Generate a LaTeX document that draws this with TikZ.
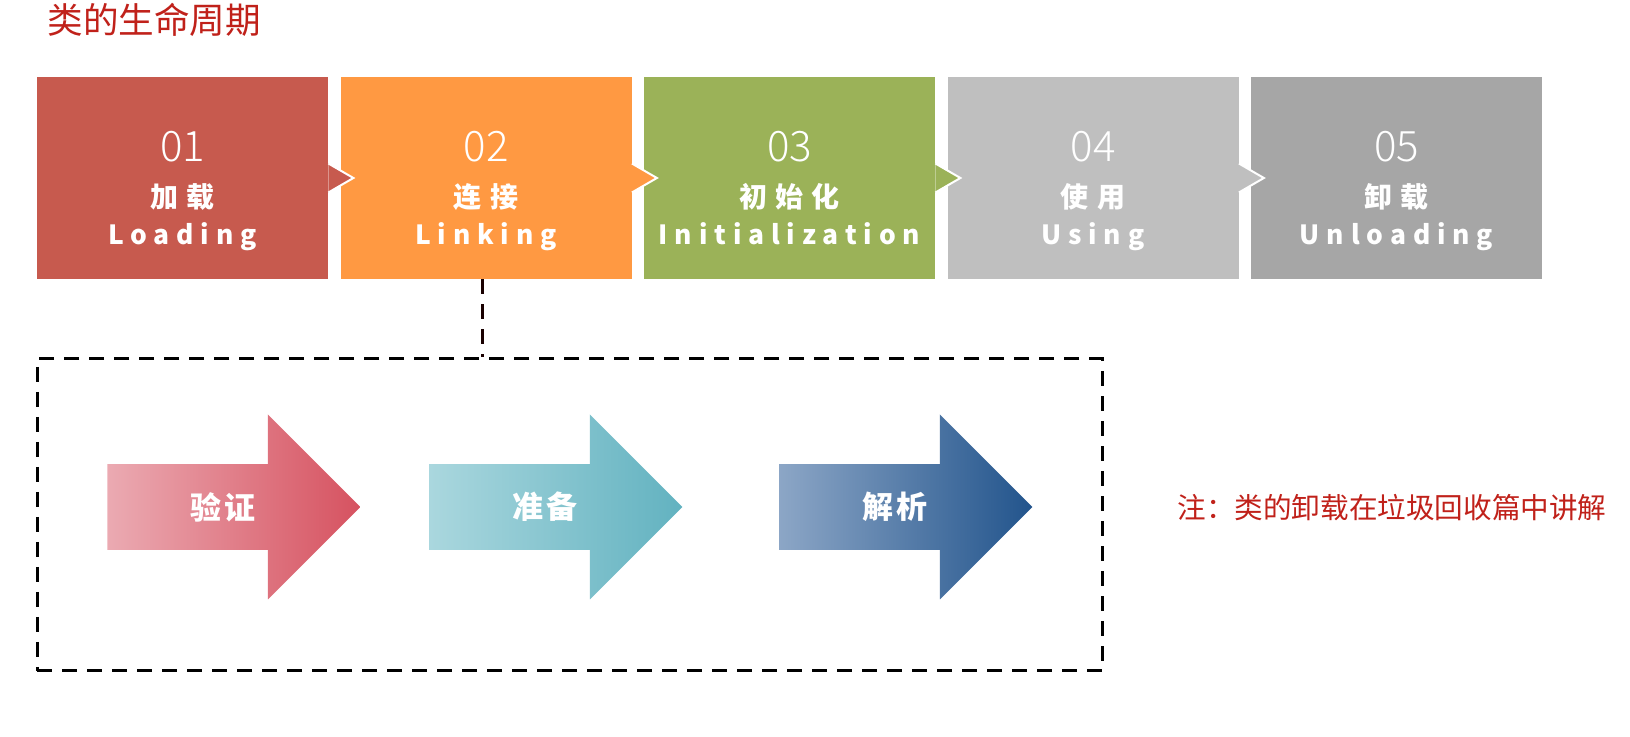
\documentclass[tikz,border=0pt]{standalone}
\usepackage{fontspec}
\setmainfont{Noto Sans CJK SC}
\newfontfamily\cjk{Noto Sans CJK SC}
\newfontfamily\cjklight{Noto Sans CJK SC Light}
\usetikzlibrary{positioning,shapes.arrows}

\definecolor{titlered}{RGB}{192,33,26}
\definecolor{loadred}{RGB}{199,90,78}
\definecolor{linkorange}{RGB}{255,153,66}
\definecolor{initgreen}{RGB}{155,178,88}
\definecolor{usegray}{RGB}{191,191,191}
\definecolor{unloadgray}{RGB}{166,166,166}
\definecolor{verifylight}{RGB}{235,170,178}
\definecolor{verifydark}{RGB}{214,82,96}
\definecolor{preparelight}{RGB}{170,215,222}
\definecolor{preparedark}{RGB}{98,178,192}
\definecolor{resolvelight}{RGB}{140,166,198}
\definecolor{resolvedark}{RGB}{34,84,140}

\begin{document}
\begin{tikzpicture}[x=0.5pt, y=-0.5pt,
    stage/.style={rectangle, minimum width=145.5pt, minimum height=101pt, inner sep=0pt},
    stagenum/.style={anchor=base, text=white, font=\cjklight\fontsize{21}{21}\selectfont},
    stagecn/.style={anchor=base, text=white, font=\cjk\bfseries\fontsize{14}{14}\selectfont\addfontfeature{LetterSpace=30}},
    stageen/.style={anchor=base, text=white, font=\cjk\bfseries\fontsize{13.2}{13.2}\selectfont\addfontfeature{LetterSpace=26}},
    phasearrow/.style={single arrow, minimum height=126.5pt, minimum width=92.5pt,
      single arrow head extend=24.75pt, inner xsep=0pt, inner ysep=13.75pt, text=white,
      font=\cjk\bfseries\fontsize{15.5}{15.5}\selectfont\addfontfeature{LetterSpace=10}},
    dashline/.style={line width=1.5pt, dash pattern=on 7.5pt off 5pt},
    redtext/.style={text=titlered, inner sep=0pt}]
  \useasboundingbox (0,0) rectangle (1630,737);
  % Title
  \node[redtext, anchor=west, font=\cjk\fontsize{17.8}{17.8}\selectfont] (title) at (47,20) {类的生命周期};
  % Five stages of the class life cycle
  \foreach \i/\name/\col/\num/\cn/\en in {0/load/loadred/01/加载/Loading,
      1/link/linkorange/02/连接/Linking, 2/init/initgreen/03/初始化/Initialization,
      3/use/usegray/04/使用/Using, 4/unload/unloadgray/05/卸载/Unloading} {
    \node[stage, fill=\col] (\name) at (182.5+303.5*\i,178) {};
    \node[stagenum] (\name-num) at (182.5+303.5*\i,162) {\num};
    \node[stagecn] (\name-cn) at (182.5+303.5*\i,208) {\cn};
    \node[stageen] (\name-en) at (182.5+303.5*\i,245) {\en};
  }
  % Chevrons between stages
  \foreach \name/\col in {load/loadred, link/linkorange, init/initgreen, use/usegray} {
    \fill[\col] (\name.east) ++(0,-14.5) -- ++(25,14.5) -- ++(-25,14.5) -- cycle;
    \draw[white, line width=1pt] (\name.east) ++(0,-14.5) -- ++(25,14.5) -- ++(-25,14.5);
  }
  % Linking in detail
  \node[draw, dashline, minimum width=532.5pt, minimum height=156pt, inner sep=0pt] (phases) at (569.5,515) {};
  \draw[dashline, draw=black!90!red] ([xshift=-2pt]link.south) -- ([xshift=-2pt]link.south |- phases.north);
  \node[phasearrow, left color=verifylight, right color=verifydark] (verify) at (212.5,507) {\hspace*{10.4pt}验证};
  \node[phasearrow, left color=preparelight, right color=preparedark] (prepare) at (534.5,507) {\hspace*{10.4pt}准备};
  \node[phasearrow, left color=resolvelight, right color=resolvedark] (resolve) at (884.5,507) {\hspace*{10.4pt}解析};
  % Note
  \node[redtext, anchor=west, font=\cjk\fontsize{14.3}{14.3}\selectfont] (note) at (1177,508) {注：类的卸载在垃圾回收篇中讲解};
\end{tikzpicture}
\end{document}
